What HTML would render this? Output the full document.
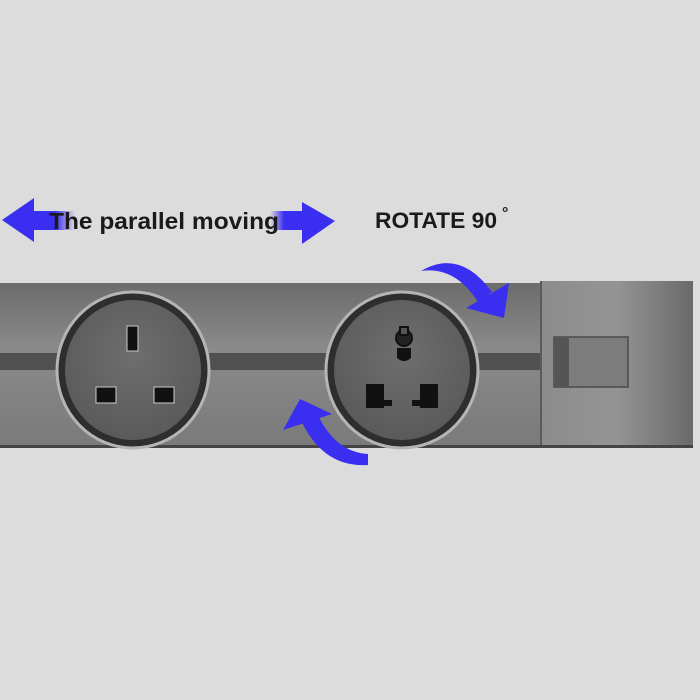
<!DOCTYPE html>
<html><head><style>body{margin:0;background:#dcdcdc}svg{display:block}</style></head><body>
<svg width="700" height="700" viewBox="0 0 700 700" xmlns="http://www.w3.org/2000/svg">
<defs>
<linearGradient id="strip" x1="0" y1="0" x2="0" y2="1">
<stop offset="0" stop-color="#6c6c6c"/><stop offset="0.4" stop-color="#8a8a8a"/><stop offset="1" stop-color="#7a7a7a"/></linearGradient>
<linearGradient id="sh" x1="0" y1="0" x2="1" y2="0">
<stop offset="0" stop-color="#8c8c8c"/><stop offset="0.5" stop-color="#949494"/><stop offset="1" stop-color="#6a6a6a"/></linearGradient>
<linearGradient id="al" x1="0" x2="1"><stop offset="0" stop-color="#3a2ff0"/><stop offset="0.6" stop-color="#3a2ff0"/><stop offset="1" stop-color="#dcdcdc"/></linearGradient>
<linearGradient id="ar" x1="0" x2="1"><stop offset="0" stop-color="#dcdcdc"/><stop offset="0.4" stop-color="#3a2ff0"/><stop offset="1" stop-color="#3a2ff0"/></linearGradient>
<radialGradient id="face" cx="0.5" cy="0.4" r="0.6"><stop offset="0" stop-color="#6e6e6e"/><stop offset="1" stop-color="#5a5a5a"/></radialGradient>
</defs>
<rect width="700" height="700" fill="#dcdcdc"/>
<rect x="0" y="283" width="542" height="164" fill="url(#strip)"/>
<rect x="540" y="281" width="153" height="166" fill="url(#sh)"/>
<rect x="540" y="281" width="2" height="166" fill="#5a5a5a"/>
<rect x="0" y="353" width="540" height="17" fill="#505050"/>
<rect x="0" y="445" width="693" height="3" fill="#444"/>
<rect x="554" y="337" width="74" height="50" fill="#7c7c7c" stroke="#4a4a4a" stroke-width="1.5"/>
<rect x="555" y="338" width="14" height="48" fill="#555"/>
<ellipse cx="133" cy="370" rx="76" ry="78" fill="#2e2e2e" stroke="#b5b5b5" stroke-width="3"/>
<ellipse cx="133" cy="370" rx="68" ry="70" fill="url(#face)"/>
<rect x="127" y="326" width="11" height="25" fill="#111" stroke="#ccc" stroke-width="1"/>
<rect x="96" y="387" width="20" height="16" fill="#111" stroke="#ccc" stroke-width="1"/>
<rect x="154" y="387" width="20" height="16" fill="#111" stroke="#ccc" stroke-width="1"/>
<ellipse cx="402" cy="370" rx="76" ry="78" fill="#2e2e2e" stroke="#b5b5b5" stroke-width="3"/>
<ellipse cx="402" cy="370" rx="68" ry="70" fill="url(#face)"/>
<circle cx="404" cy="338" r="8" fill="#222" stroke="#111" stroke-width="2"/>
<rect x="400" y="327" width="8" height="8" fill="#555" stroke="#111" stroke-width="2"/>
<path d="M397 348 h14 v10 q-7 6 -14 0 z" fill="#111"/>
<path d="M366 384 h18 v24 h-18 z M384 400 h8 v6 h-8z" fill="#111"/>
<path d="M420 384 h18 v24 h-18 z M412 400 h8 v6 h-8z" fill="#111"/>
<rect x="25" y="211" width="50" height="19" fill="url(#al)"/>
<polygon points="2,220 34,198 34,242" fill="#3a2ff0"/>
<rect x="270" y="211" width="35" height="19" fill="url(#ar)"/>
<polygon points="335,221 302,202 302,244" fill="#3a2ff0"/>
<text x="49" y="229" font-family="Liberation Sans, sans-serif" font-weight="bold" font-size="23" fill="#1a1a1a" textLength="230" lengthAdjust="spacingAndGlyphs">The parallel moving</text>
<text x="375" y="228" font-family="Liberation Sans, sans-serif" font-weight="bold" font-size="22" fill="#1a1a1a" textLength="122" lengthAdjust="spacingAndGlyphs">ROTATE 90</text>
<text x="502" y="218" font-family="Liberation Sans, sans-serif" font-weight="bold" font-size="16" fill="#1a1a1a">°</text>
<path d="M421 271 Q460 248 492 292 L478 302 Q455 266 421 271 Z" fill="#3a2ff0"/>
<polygon points="466,308 509,283 504,318" fill="#3a2ff0"/>
<path d="M368 465 Q322 468 300 418 L316 411 Q334 452 368 454 Z" fill="#3a2ff0"/>
<polygon points="283,430 300,399 332,414" fill="#3a2ff0"/>
</svg>
</body></html>
